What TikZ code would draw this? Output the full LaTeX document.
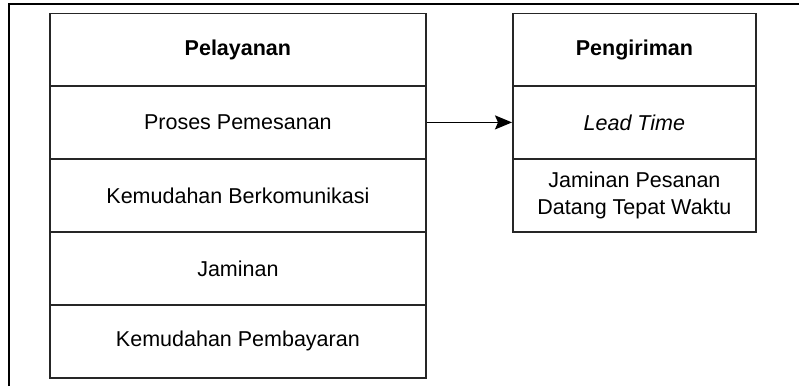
\documentclass[tikz,border=0pt]{standalone}
\usepackage{fontspec}
\setmainfont{Liberation Sans}
\usetikzlibrary{arrows.meta}
\begin{document}
\begin{tikzpicture}[x=1pt,y=1pt,
  cell/.style={draw=black!85, line width=1.8pt, rectangle, anchor=north west, inner sep=0pt, align=center, font=\fontsize{21.5}{27}\selectfont},
  lcell/.style={cell, minimum width=376pt, minimum height=73pt},
  rcell/.style={cell, minimum width=243pt, minimum height=73pt},
  frame/.style={line width=2.4pt, black}
]
\useasboundingbox (0,0) rectangle (799,-386);
\coordinate (fbl) at (9,-386);
\coordinate (ftl) at (9,-4);
\coordinate (ftr) at (799,-4);
\draw[frame] (fbl) -- (ftl) -- (ftr);

\node[lcell] (p1) at (49,-12.5) {\textbf{Pelayanan}};
\node[lcell] (p2) at (49,-85) {Proses Pemesanan};
\node[lcell] (p3) at (49,-158) {Kemudahan Berkomunikasi};
\node[lcell] (p4) at (49,-231) {Jaminan};
\node[lcell] (p5) at (49,-304) {Kemudahan Pembayaran};

\node[rcell] (q1) at (512,-12.5) {\textbf{Pengiriman}};
\node[rcell] (q2) at (512,-85) {\textit{Lead Time}};
\node[rcell] (q3) at (512,-158) {Jaminan Pesanan\\Datang Tepat Waktu};

\draw[line width=1.7pt, -{Stealth[length=17pt,width=14pt,inset=3pt]}] (p2.east) -- (q2.west);
\end{tikzpicture}
\end{document}
